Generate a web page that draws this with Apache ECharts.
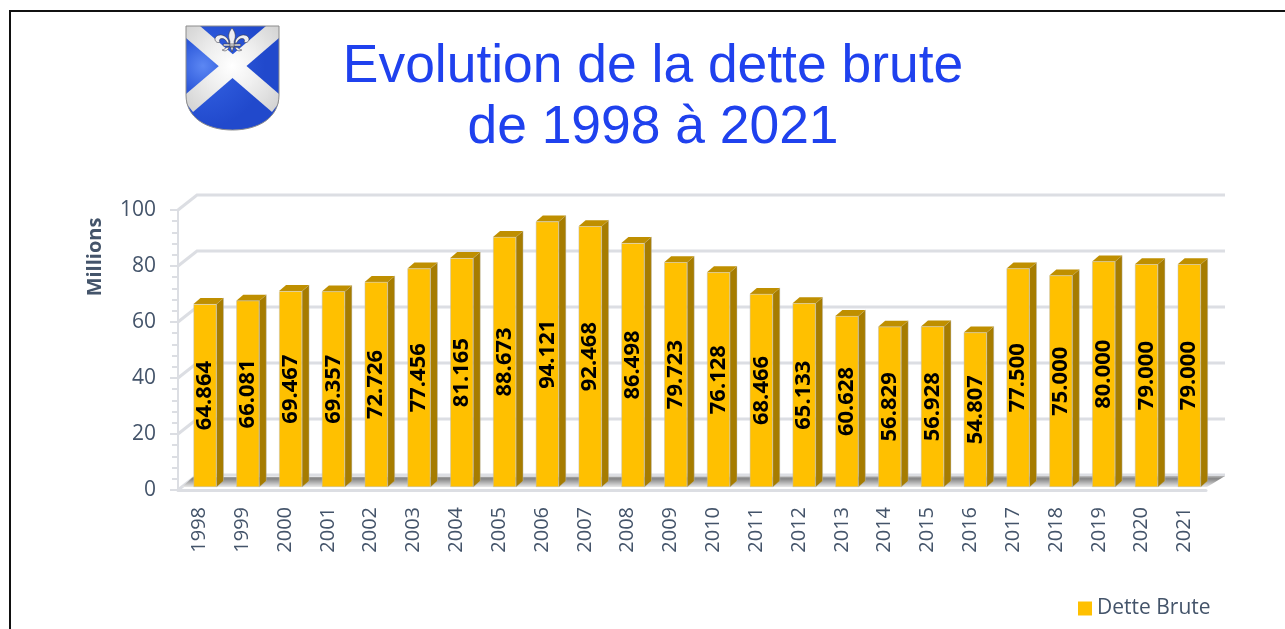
<!DOCTYPE html>
<html><head><meta charset="utf-8">
<style>html,body{margin:0;padding:0;background:#fff}#c{width:1285px;height:629px}</style>
<script src="https://cdn.jsdelivr.net/npm/echarts@6/dist/echarts.min.js"></script>
</head><body><div id="c"></div>
<script>
const years = ['1998','1999','2000','2001','2002','2003','2004','2005','2006','2007','2008','2009','2010','2011','2012','2013','2014','2015','2016','2017','2018','2019','2020','2021'];
const debt = [64.864,66.081,69.467,69.357,72.726,77.456,81.165,88.673,94.121,92.468,86.498,79.723,76.128,68.466,65.133,60.628,56.829,56.928,54.807,77.5,75,80,79,79];
const wallTicks = [0,20,40,60,80,100];
const seriesName = 'Dette Brute';
const titleText = 'Evolution de la dette brute\nde 1998 à 2021';
const axisTitle = 'Millions';

const TEXT = '#44546a', GRID = '#dcdee3';
const BAR_W = 23, DX = 7, DY = 6, WALL_DX = 19, WALL_DY = 15;

const chart = echarts.init(document.getElementById('c'), null, {renderer:'canvas'});

function wallItem(params, api){
  const v = api.value(0);
  const p0 = api.coord([0, v]);
  const c = params.coordSys;
  const y = p0[1], x0 = c.x, x1 = c.x + c.width;
  return {type:'polyline', silent:true,
    shape:{points:[[x0,y],[x0+WALL_DX,y-WALL_DY],[x1+WALL_DX,y-WALL_DY]]},
    style:{stroke:GRID, lineWidth:3, fill:null}};
}
function floorItem(params, api){
  const c = params.coordSys;
  const yb = c.y + c.height, x0 = c.x, x1 = c.x + c.width;
  return {type:'polygon', silent:true,
    shape:{points:[[x0+4,yb-3],[x0+WALL_DX-4,yb-13],[x1+WALL_DX,yb-14],[x1+1,yb-3]]},
    style:{fill:new echarts.graphic.LinearGradient(0,0,0,1,[
      {offset:0,color:'#b5b5b5'},{offset:.25,color:'#858585'},{offset:1,color:'#e8e8e8'}])}};
}
function depthItem(params, api){
  const i = api.value(0), v = api.value(1);
  const t = api.coord([i, v]), b = api.coord([i, 0]);
  const l = t[0]-BAR_W/2, r = t[0]+BAR_W/2;
  return {type:'group', children:[
    {type:'polygon', silent:true, shape:{points:[[r,t[1]],[r+DX,t[1]-DY],[r+DX,b[1]-DY],[r,b[1]]]},
      style:{fill:'#a67c00', stroke:'rgba(190,190,190,.7)', lineWidth:.6}},
    {type:'polygon', silent:true, shape:{points:[[l,t[1]],[r,t[1]],[r+DX,t[1]-DY],[l+DX,t[1]-DY]]},
      style:{fill:'#bf8f00'}}
  ]};
}

const flourPath = 'M0,-14 C3,-10 4,-6 2,-1 L2,5 L-2,5 L-2,-1 C-4,-6 -3,-10 0,-14 Z M3,-1 C5,-7 12,-9 15,-5 C17,-2 14,2 11,0 C13,-3 9,-5 6,-2 C5,0 4,1 3,2 Z M-3,-1 C-5,-7 -12,-9 -15,-5 C-17,-2 -14,2 -11,0 C-13,-3 -9,-5 -6,-2 C-5,0 -4,1 -3,2 Z M-8,2 L8,2 L8,4 L-8,4 Z M-1.5,5 L1.5,5 L0,10 Z M-3,5 C-6,5 -7,8 -9,8 C-6,10 -4,8 -3,6 Z M3,5 C6,5 7,8 9,8 C6,10 4,8 3,6 Z';
const shield = 'M186,26 L279,26 L279,95 C279,118 258,130 232.5,130 C207,130 186,118 186,95 Z';
const SHIELD_RECT = {x:186,y:26,width:93,height:104};

function crestItem(){
  const blue = new echarts.graphic.RadialGradient(203,66,62,[{offset:0,color:'#5c87f3'},{offset:.45,color:'#2c58da'},{offset:1,color:'#2149cc'}],true);
  const white = new echarts.graphic.RadialGradient(232,66,62,[{offset:0,color:'#ffffff'},{offset:.4,color:'#f0f0f0'},{offset:1,color:'#d2d2d2'}],true);
  return {type:'group', children:[
    {type:'path', shape:Object.assign({pathData:shield, layout:'cover'},SHIELD_RECT), style:{fill:blue}},
    {type:'polygon', shape:{points:[[186,26],[200,26],[279,94],[279,103],[272,112],[186,38]]}, style:{fill:white}},
    {type:'polygon', shape:{points:[[279,26],[266,26],[186,94],[186,103],[193,112],[279,38]]}, style:{fill:white}},
    {type:'path', shape:Object.assign({pathData:shield, layout:'cover'},SHIELD_RECT), style:{fill:null,stroke:'#8c8c8c',lineWidth:1}},
    {type:'path', shape:{pathData:flourPath, layout:'cover', x:215,y:28,width:34,height:24}, style:{fill:'#eeeef2',stroke:'#3c3c44',lineWidth:.6}}
  ]};
}

chart.setOption({
  animation:false,
  backgroundColor:'#fff',
  title:{text:titleText, left:648, top:32, textAlign:'center',
    textStyle:{fontFamily:'Liberation Sans', fontSize:53.4, fontWeight:'normal', color:'#1f41ee', lineHeight:61}},
  legend:{data:[seriesName], left:1073, top:593, itemWidth:14, itemHeight:14, icon:'rect', itemGap:6,
    itemStyle:{borderWidth:0},
    textStyle:{fontFamily:'Open Sans', fontSize:21, color:TEXT}},
  grid:[
    {left:178, width:1028, top:210, height:280},
    {left:183.6, width:1027, top:205, height:282}
  ],
  xAxis:[
    {type:'category', gridIndex:0, data:years, boundaryGap:true,
      axisLine:{lineStyle:{color:GRID,width:3}}, axisTick:{show:false},
      axisLabel:{rotate:90, interval:0, margin:17, padding:[4,0,0,0], fontFamily:'Open Sans', fontSize:20, color:TEXT}},
    {type:'category', gridIndex:1, data:years, show:false}
  ],
  yAxis:[
    {type:'value', gridIndex:0, min:0, max:100, interval:20,
      name:axisTitle, nameLocation:'middle', nameGap:73, nameRotate:90,
      nameTextStyle:{fontFamily:'Open Sans', fontWeight:'bold', fontSize:20, color:TEXT, padding:[0,0,0,186]},
      axisLine:{show:true,lineStyle:{color:GRID,width:2}},
      axisTick:{show:true,length:8,lineStyle:{color:GRID,width:2}},
      minorTick:{show:true,splitNumber:5,length:6,lineStyle:{color:GRID,width:2}},
      splitLine:{show:false},
      axisLabel:{margin:22, padding:[3,0,0,0], fontFamily:'Open Sans', fontSize:21, color:TEXT}},
    {type:'value', gridIndex:1, min:0, max:100, show:false, splitLine:{show:false}}
  ],
  graphic:[
    {type:'line', silent:true, shape:{x1:10,y1:11,x2:1285,y2:11}, style:{stroke:'#111',lineWidth:2}},
    {type:'line', silent:true, shape:{x1:10,y1:10,x2:10,y2:629}, style:{stroke:'#111',lineWidth:2}}
  ],
  series:[
    {type:'custom', name:'crest', coordinateSystem:'none', z:1, data:[[0]], renderItem:crestItem, silent:true},
    {type:'custom', name:'walls', xAxisIndex:0, yAxisIndex:0, z:1, data:wallTicks.map(v=>[v]), encode:{y:0}, renderItem:wallItem, silent:true},
    {type:'custom', name:'floor', xAxisIndex:0, yAxisIndex:0, z:2, data:[[0]], encode:{y:0}, renderItem:floorItem, silent:true},
    {type:'custom', name:'depth', xAxisIndex:1, yAxisIndex:1, z:3, data:debt.map((v,i)=>[i,v]), encode:{x:0,y:1}, renderItem:depthItem, silent:true},
    {type:'bar', name:seriesName, xAxisIndex:1, yAxisIndex:1, z:4, data:debt, barWidth:BAR_W,
      itemStyle:{color:'#ffc000', borderColor:'rgba(190,190,190,.8)', borderWidth:.6},
      label:{show:true, position:'inside', rotate:90, align:'center', verticalAlign:'middle', padding:[3,0,0,0],
        fontFamily:'Open Sans', fontWeight:'bold', fontSize:22, color:'#000',
        formatter:p=>p.value.toFixed(3)}}
  ]
});
</script></body></html>
